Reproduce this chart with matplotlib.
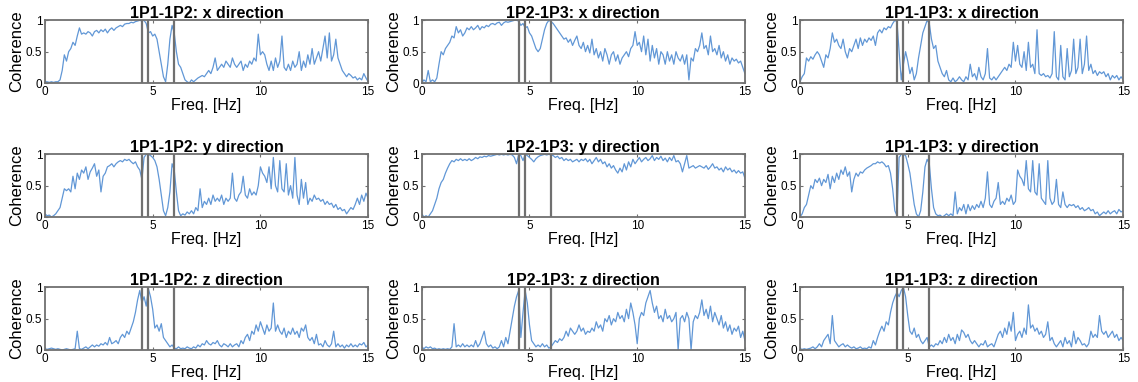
import numpy as np
import matplotlib
matplotlib.use("Agg")
import matplotlib.pyplot as plt

plt.rcParams['font.family'] = ['Liberation Sans', 'DejaVu Sans']

# frequency axis, 0.1 Hz steps from 0 to 15 Hz
freq = np.round(np.arange(151) * 0.1, 1)

# reference frequencies marked by the vertical lines
mark_freqs = [4.5, 4.8, 6.0]

pairs = ['1P1-1P2', '1P2-1P3', '1P1-1P3']
directions = ['x', 'y', 'z']

# coherence values (one value every 0.1 Hz)
coh_12_x = [
    0.02, 0.02, 0.01, 0.02, 0.01, 0.02, 0.02, 0.05, 0.20, 0.45,
    0.35, 0.50, 0.55, 0.65, 0.60, 0.75, 0.88, 0.78, 0.80, 0.78,
    0.82, 0.80, 0.75, 0.82, 0.84, 0.80, 0.85, 0.82, 0.86, 0.80,
    0.85, 0.88, 0.84, 0.88, 0.90, 0.92, 0.90, 0.94, 0.95, 0.95,
    0.97, 0.96, 0.98, 0.99, 1.00, 0.99, 1.00, 0.95, 0.80, 0.82,
    0.75, 0.78, 0.70, 0.50, 0.30, 0.10, 0.02, 0.30, 0.70, 0.92,
    0.80, 0.50, 0.30, 0.25, 0.15, 0.05, 0.02, 0.00, 0.05, 0.02,
    0.05, 0.08, 0.10, 0.12, 0.10, 0.15, 0.20, 0.15, 0.25, 0.40,
    0.20, 0.25, 0.30, 0.25, 0.35, 0.30, 0.25, 0.40, 0.30, 0.25,
    0.30, 0.35, 0.20, 0.30, 0.25, 0.35, 0.30, 0.40, 0.35, 0.78,
    0.45, 0.50, 0.45, 0.30, 0.20, 0.35, 0.20, 0.40, 0.25, 0.35,
    0.75, 0.25, 0.20, 0.30, 0.20, 0.35, 0.25, 0.30, 0.50, 0.20,
    0.35, 0.25, 0.45, 0.30, 0.55, 0.30, 0.40, 0.50, 0.35, 0.55,
    0.75, 0.40, 0.80, 0.35, 0.45, 0.70, 0.40, 0.30, 0.20, 0.15,
    0.10, 0.15, 0.12, 0.08, 0.10, 0.05, 0.08, 0.05, 0.15, 0.08,
    0.02,
]
coh_23_x = [
    0.00, 0.05, 0.02, 0.20, 0.02, 0.05, 0.02, 0.08, 0.30, 0.50,
    0.45, 0.55, 0.60, 0.65, 0.75, 0.72, 0.90, 0.80, 0.85, 0.75,
    0.80, 0.88, 0.85, 0.90, 0.85, 0.88, 0.92, 0.85, 0.90, 0.88,
    0.92, 0.90, 0.94, 0.95, 0.93, 0.96, 0.97, 0.92, 0.96, 0.98,
    0.97, 0.98, 0.99, 1.00, 1.00, 0.99, 0.92, 0.95, 0.88, 0.90,
    0.80, 0.75, 0.65, 0.55, 0.50, 0.55, 0.70, 0.85, 0.95, 1.00,
    0.98, 0.95, 0.90, 0.85, 0.80, 0.75, 0.70, 0.72, 0.65, 0.70,
    0.60, 0.68, 0.75, 0.60, 0.55, 0.65, 0.50, 0.60, 0.48, 0.70,
    0.45, 0.55, 0.40, 0.50, 0.35, 0.55, 0.45, 0.30, 0.45, 0.50,
    0.35, 0.45, 0.30, 0.40, 0.45, 0.50, 0.42, 0.55, 0.60, 0.82,
    0.60, 0.65, 0.50, 0.75, 0.45, 0.70, 0.35, 0.60, 0.40, 0.55,
    0.30, 0.50, 0.45, 0.30, 0.50, 0.35, 0.45, 0.30, 0.50, 0.40,
    0.35, 0.45, 0.30, 0.45, 0.05, 0.40, 0.35, 0.55, 0.50, 0.60,
    0.80, 0.55, 0.60, 0.45, 0.75, 0.50, 0.55, 0.45, 0.60, 0.40,
    0.50, 0.35, 0.45, 0.30, 0.40, 0.35, 0.38, 0.32, 0.35, 0.25,
    0.15,
]
coh_13_x = [
    0.02, 0.10, 0.15, 0.40, 0.35, 0.42, 0.38, 0.45, 0.50, 0.45,
    0.35, 0.25, 0.45, 0.40, 0.55, 0.80, 0.65, 0.70, 0.60, 0.55,
    0.70, 0.50, 0.40, 0.55, 0.50, 0.60, 0.70, 0.55, 0.72, 0.60,
    0.70, 0.65, 0.72, 0.68, 0.75, 0.60, 0.80, 0.85, 0.80, 0.88,
    0.85, 0.90, 0.88, 0.95, 1.00, 0.98, 0.50, 0.05, 0.30, 0.50,
    0.35, 0.15, 0.25, 0.05, 0.15, 0.40, 0.60, 0.80, 0.90, 1.00,
    0.95, 0.70, 0.55, 0.60, 0.35, 0.25, 0.15, 0.10, 0.20, 0.05,
    0.02, 0.08, 0.02, 0.05, 0.10, 0.05, 0.02, 0.10, 0.05, 0.30,
    0.10, 0.15, 0.05, 0.25, 0.10, 0.05, 0.15, 0.55, 0.08, 0.05,
    0.10, 0.05, 0.10, 0.15, 0.20, 0.25, 0.20, 0.30, 0.25, 0.65,
    0.35, 0.60, 0.30, 0.25, 0.50, 0.20, 0.65, 0.25, 0.30, 0.15,
    0.85, 0.15, 0.12, 0.15, 0.10, 0.12, 0.08, 0.15, 0.82, 0.10,
    0.05, 0.60, 0.10, 0.05, 0.55, 0.10, 0.20, 0.70, 0.15, 0.25,
    0.70, 0.15, 0.30, 0.75, 0.20, 0.30, 0.15, 0.20, 0.12, 0.18,
    0.15, 0.18, 0.10, 0.15, 0.05, 0.12, 0.08, 0.12, 0.05, 0.10,
    0.05,
]
coh_12_y = [
    0.05, 0.02, 0.03, 0.00, 0.02, 0.05, 0.10, 0.15, 0.30, 0.45,
    0.42, 0.45, 0.40, 0.65, 0.45, 0.70, 0.60, 0.75, 0.70, 0.80,
    0.60, 0.72, 0.78, 0.85, 0.65, 0.75, 0.40, 0.65, 0.70, 0.80,
    0.82, 0.85, 0.80, 0.85, 0.88, 0.90, 0.88, 0.92, 0.90, 0.92,
    0.88, 0.85, 0.88, 0.80, 0.75, 0.60, 0.95, 1.00, 1.00, 0.98,
    0.95, 0.90, 0.80, 0.60, 0.35, 0.10, 0.02, 0.15, 0.40, 0.85,
    0.75, 0.40, 0.10, 0.02, 0.05, 0.03, 0.08, 0.05, 0.10, 0.05,
    0.15, 0.10, 0.45, 0.15, 0.25, 0.20, 0.30, 0.20, 0.35, 0.25,
    0.30, 0.25, 0.35, 0.20, 0.30, 0.25, 0.30, 0.70, 0.30, 0.25,
    0.35, 0.40, 0.65, 0.35, 0.30, 0.45, 0.35, 0.40, 0.35, 0.50,
    0.80, 0.70, 0.65, 0.55, 0.80, 0.45, 0.95, 0.50, 0.40, 0.90,
    0.45, 0.40, 0.85, 0.35, 0.50, 0.30, 0.95, 0.35, 0.20, 0.60,
    0.30, 0.55, 0.20, 0.30, 0.25, 0.35, 0.28, 0.30, 0.25, 0.28,
    0.20, 0.25, 0.20, 0.22, 0.15, 0.20, 0.12, 0.15, 0.10, 0.12,
    0.05, 0.10, 0.15, 0.12, 0.20, 0.30, 0.20, 0.35, 0.25, 0.38,
    0.30,
]
coh_23_y = [
    0.05, 0.00, 0.02, 0.00, 0.05, 0.10, 0.20, 0.30, 0.45, 0.55,
    0.60, 0.70, 0.78, 0.85, 0.90, 0.88, 0.92, 0.90, 0.93, 0.90,
    0.92, 0.90, 0.93, 0.90, 0.92, 0.95, 0.93, 0.96, 0.95, 0.97,
    0.96, 0.98, 0.97, 0.98, 0.99, 1.00, 0.99, 1.00, 0.99, 1.00,
    0.99, 1.00, 0.99, 0.95, 0.85, 1.00, 0.98, 0.90, 1.00, 0.98,
    0.95, 0.92, 0.88, 0.93, 0.96, 0.98, 0.99, 1.00, 0.99, 1.00,
    0.99, 0.98, 0.95, 0.97, 0.93, 0.95, 0.90, 0.93, 0.90, 0.92,
    0.88, 0.90, 0.92, 0.88, 0.92, 0.90, 0.93, 0.88, 0.92, 0.85,
    0.90, 0.95, 0.88, 0.92, 0.85, 0.88, 0.80, 0.85, 0.78, 0.82,
    0.75, 0.70, 0.78, 0.72, 0.85, 0.75, 0.88, 0.80, 0.92, 0.85,
    0.90, 0.95, 0.88, 0.92, 0.95, 0.90, 0.93, 0.98, 0.90, 0.95,
    0.92, 0.97, 0.90, 0.94, 0.88, 0.95, 0.90, 0.98, 0.88, 0.90,
    0.85, 0.72, 0.85, 0.98, 0.78, 0.80, 0.82, 0.78, 0.80, 0.82,
    0.80, 0.78, 0.82, 0.76, 0.80, 0.85, 0.78, 0.80, 0.75, 0.78,
    0.72, 0.80, 0.75, 0.78, 0.72, 0.75, 0.70, 0.74, 0.70, 0.72,
    0.62,
]
coh_13_y = [
    0.00, 0.05, 0.15, 0.20, 0.35, 0.50, 0.45, 0.60, 0.55, 0.62,
    0.50, 0.60, 0.55, 0.68, 0.45, 0.65, 0.55, 0.70, 0.60, 0.75,
    0.68, 0.80, 0.65, 0.72, 0.40, 0.60, 0.70, 0.65, 0.72, 0.70,
    0.75, 0.78, 0.80, 0.82, 0.85, 0.85, 0.88, 0.86, 0.88, 0.85,
    0.80, 0.82, 0.70, 0.45, 0.10, 0.02, 0.95, 1.00, 1.00, 0.98,
    0.85, 0.70, 0.45, 0.20, 0.05, 0.00, 0.10, 0.40, 0.80, 0.92,
    0.85, 0.45, 0.15, 0.05, 0.02, 0.03, 0.00, 0.02, 0.05, 0.02,
    0.05, 0.02, 0.40, 0.05, 0.15, 0.10, 0.20, 0.05, 0.20, 0.10,
    0.18, 0.12, 0.20, 0.15, 0.25, 0.15, 0.30, 0.72, 0.20, 0.15,
    0.25, 0.30, 0.55, 0.20, 0.25, 0.20, 0.30, 0.25, 0.35, 0.20,
    0.25, 0.75, 0.65, 0.60, 0.50, 0.90, 0.45, 0.40, 0.90, 0.40,
    0.35, 0.85, 0.30, 0.25, 0.20, 0.90, 0.30, 0.20, 0.25, 0.60,
    0.20, 0.15, 0.40, 0.20, 0.15, 0.20, 0.18, 0.20, 0.15, 0.18,
    0.12, 0.15, 0.10, 0.12, 0.15, 0.10, 0.12, 0.05, 0.08, 0.02,
    0.05, 0.08, 0.05, 0.10, 0.05, 0.08, 0.10, 0.05, 0.12, 0.08,
    0.10,
]
coh_12_z = [
    0.02, 0.01, 0.02, 0.03, 0.02, 0.01, 0.02, 0.01, 0.00, 0.01,
    0.02, 0.01, 0.00, 0.01, 0.02, 0.30, 0.02, 0.01, 0.03, 0.05,
    0.02, 0.05, 0.08, 0.05, 0.08, 0.06, 0.10, 0.08, 0.12, 0.08,
    0.20, 0.10, 0.12, 0.15, 0.10, 0.20, 0.25, 0.20, 0.30, 0.25,
    0.35, 0.45, 0.60, 0.80, 0.95, 0.75, 0.85, 0.70, 0.98, 0.85,
    0.65, 0.35, 0.40, 0.30, 0.42, 0.20, 0.15, 0.10, 0.05, 0.08,
    0.03, 0.02, 0.05, 0.02, 0.03, 0.02, 0.05, 0.03, 0.02, 0.05,
    0.03, 0.08, 0.05, 0.10, 0.08, 0.15, 0.10, 0.08, 0.12, 0.10,
    0.15, 0.08, 0.05, 0.10, 0.08, 0.05, 0.10, 0.05, 0.08, 0.10,
    0.05, 0.15, 0.10, 0.20, 0.25, 0.15, 0.30, 0.25, 0.40, 0.30,
    0.45, 0.35, 0.25, 0.40, 0.30, 0.35, 0.75, 0.30, 0.40, 0.30,
    0.25, 0.35, 0.20, 0.30, 0.25, 0.35, 0.25, 0.30, 0.20, 0.35,
    0.30, 0.40, 0.20, 0.15, 0.20, 0.10, 0.25, 0.08, 0.10, 0.05,
    0.15, 0.08, 0.05, 0.10, 0.30, 0.05, 0.10, 0.05, 0.08, 0.03,
    0.08, 0.05, 0.10, 0.05, 0.08, 0.05, 0.10, 0.08, 0.12, 0.05,
    0.08,
]
coh_23_z = [
    0.05, 0.02, 0.05, 0.03, 0.05, 0.02, 0.03, 0.01, 0.02, 0.01,
    0.02, 0.01, 0.02, 0.01, 0.05, 0.42, 0.05, 0.08, 0.05, 0.10,
    0.05, 0.08, 0.05, 0.08, 0.05, 0.15, 0.05, 0.10, 0.20, 0.30,
    0.10, 0.05, 0.08, 0.03, 0.05, 0.02, 0.05, 0.15, 0.05, 0.20,
    0.10, 0.30, 0.50, 0.70, 0.85, 0.95, 0.20, 0.60, 0.95, 0.75,
    0.40, 0.15, 0.10, 0.05, 0.08, 0.05, 0.10, 0.05, 0.08, 0.03,
    0.05, 0.10, 0.15, 0.12, 0.18, 0.15, 0.20, 0.30, 0.22, 0.35,
    0.30, 0.25, 0.30, 0.40, 0.30, 0.35, 0.25, 0.30, 0.28, 0.35,
    0.30, 0.45, 0.35, 0.40, 0.30, 0.50, 0.45, 0.55, 0.40, 0.50,
    0.45, 0.60, 0.50, 0.55, 0.45, 0.65, 0.50, 0.75, 0.60, 0.40,
    0.10, 0.50, 0.60, 0.55, 0.75, 0.85, 0.95, 0.75, 0.60, 0.70,
    0.50, 0.55, 0.45, 0.65, 0.50, 0.55, 0.45, 0.50, 0.60, 0.00,
    0.50, 0.55, 0.45, 0.60, 0.50, 0.00, 0.45, 0.55, 0.50, 0.60,
    0.80, 0.55, 0.65, 0.50, 0.70, 0.45, 0.60, 0.50, 0.40, 0.55,
    0.35, 0.45, 0.30, 0.40, 0.25, 0.35, 0.30, 0.38, 0.20, 0.30,
    0.15,
]
coh_13_z = [
    0.02, 0.01, 0.02, 0.01, 0.02, 0.03, 0.05, 0.02, 0.05, 0.10,
    0.05, 0.15, 0.20, 0.25, 0.10, 0.55, 0.15, 0.10, 0.05, 0.08,
    0.10, 0.05, 0.08, 0.05, 0.03, 0.05, 0.02, 0.03, 0.05, 0.02,
    0.03, 0.02, 0.05, 0.03, 0.15, 0.08, 0.20, 0.30, 0.38, 0.30,
    0.45, 0.40, 0.60, 0.75, 0.85, 0.92, 0.85, 0.95, 1.00, 0.85,
    0.55, 0.30, 0.25, 0.35, 0.20, 0.25, 0.15, 0.10, 0.15, 0.20,
    0.05, 0.08, 0.05, 0.10, 0.08, 0.15, 0.10, 0.20, 0.12, 0.25,
    0.15, 0.20, 0.10, 0.25, 0.15, 0.32, 0.28, 0.20, 0.25, 0.15,
    0.10, 0.15, 0.10, 0.05, 0.10, 0.08, 0.15, 0.05, 0.08, 0.10,
    0.05, 0.15, 0.25, 0.30, 0.20, 0.35, 0.25, 0.45, 0.30, 0.60,
    0.15, 0.25, 0.30, 0.20, 0.35, 0.25, 0.72, 0.35, 0.40, 0.30,
    0.35, 0.25, 0.30, 0.20, 0.25, 0.45, 0.15, 0.20, 0.10, 0.05,
    0.10, 0.15, 0.05, 0.20, 0.10, 0.15, 0.05, 0.30, 0.10, 0.20,
    0.15, 0.08, 0.10, 0.05, 0.10, 0.30, 0.20, 0.25, 0.20, 0.55,
    0.30, 0.25, 0.30, 0.20, 0.25, 0.30, 0.20, 0.25, 0.15, 0.20,
    0.15,
]

series = [
    [coh_12_x, coh_23_x, coh_13_x],
    [coh_12_y, coh_23_y, coh_13_y],
    [coh_12_z, coh_23_z, coh_13_z],
]

line_color = '#6197d6'
frame_color = '#707070'

fig = plt.figure(figsize=(11.38, 3.82), dpi=100)

lefts = [0.0395, 0.3706, 0.703]
bottoms = [0.7827, 0.432, 0.0838]
width, height = 0.284, 0.164

for r, d in enumerate(directions):
    for c, p in enumerate(pairs):
        ax = fig.add_axes([lefts[c], bottoms[r], width, height])
        ax.plot(freq, series[r][c], color=line_color, lw=0.9)
        for f in mark_freqs:
            ax.axvline(f, color=frame_color, lw=1.6)
        ax.set_xlim(0, 15)
        ax.set_ylim(0, 1)
        ax.set_xticks([0, 5, 10, 15])
        ax.set_yticks([0, 0.5, 1])
        ax.set_yticklabels(['0', '0.5', '1'])
        ax.tick_params(direction='in', length=2.5, labelsize=8.5,
                       color=frame_color, pad=2, top=True, right=True)
        for s in ax.spines.values():
            s.set_color(frame_color)
            s.set_linewidth(1.3)
        ax.set_title(f'{p}: {d} direction', fontsize=11.5,
                     fontweight='bold', pad=1.5)
        ax.set_xlabel('Freq. [Hz]', fontsize=11.5, labelpad=0)
        ax.set_ylabel('Coherence', fontsize=12, labelpad=1)

fig.savefig('out.png', dpi=100)
